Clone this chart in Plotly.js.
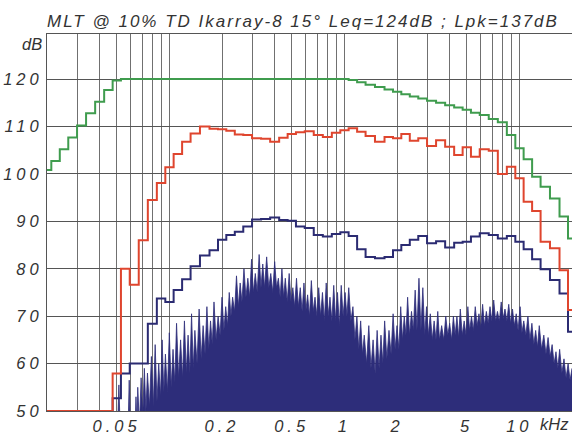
<!DOCTYPE html>
<html><head><meta charset="utf-8">
<script src="https://cdn.plot.ly/plotly-3.0.1.min.js"></script>
<style>
html,body{margin:0;padding:0;background:#fff;}
#chart{width:572px;height:433px;}
#chart .xtick text, #chart .ytick text{letter-spacing:4px;}
#chart .gtitle{letter-spacing:2px;}
</style></head><body><div id="chart"></div>
<script>
// 1/6-octave band centre frequencies (Hz)
const bandHz = [20,22.4,25,28,31.5,35.5,40,45,50,56,63,71,80,90,
  100,112,125,140,160,180,200,224,250,280,315,355,400,450,500,560,630,710,800,900,
  1000,1120,1250,1400,1600,1800,2000,2240,2500,2800,3150,3550,4000,4500,5000,5600,6300,7100,8000,9000,
  10000,11200,12500,14000,16000,18000,20000];

const greenDb = [100.8,102.7,105.2,107.7,110.2,112.8,115.2,117.7,119.7,120,120,120,120,120,
  120,120,120,120,120,120,120,120,120,120,120,120,120,120,120,120,120,120,120,120,
  120.0,119.8,119.3,118.8,118.3,117.8,117.3,116.8,116.3,115.9,115.4,115.0,114.5,114.0,113.5,112.9,112.4,111.6,110.9,108.2,
  105.4,103.1,99.4,97.3,94.8,91.0,86.4];

const redDb = [50,50,50,50,50,50,50,50,57.9,80.0,76.6,86.0,94.5,98.1,
  101.4,104.2,106.8,108.5,110.0,109.5,109.4,109.1,108.3,108.2,107.5,107.4,106.8,107.6,108.4,108.8,109.0,108.2,107.8,108.7,
  109.2,109.6,108.9,108.0,106.8,107.8,107.5,108.4,107.0,107.5,105.9,107.1,105.7,104.0,105.6,103.6,105.2,104.9,100.0,101.5,
  99.1,94.1,92.2,85.7,84.3,79.7,71.3];

const blueDb = [50,50,50,50,50,50,50,50,52.7,57.9,60.0,60.0,68.4,73.7,
  73.0,75.5,77.8,80.5,82.8,83.9,86.1,87.1,87.8,88.9,90.4,90.5,90.8,90.3,90.1,88.9,88.6,87.1,86.8,87.3,
  87.7,86.9,84.1,82.5,82.2,82.5,83.9,85.0,86.1,86.9,85.4,85.8,84.5,85.5,85.7,86.8,87.5,87.1,86.4,86.9,
  85.7,84.1,82.0,79.9,77.6,74.8,66.7];

// narrow-band spectrum: alternating spike tops and gaps (Hz, dB)
const specHz = [
  20,50.5,51.5,52.5,58,59,60,63.5,64.5,65.5,
  66,67.5,69,70.5,72,73.5,75,77,79,81,
  83,85,87,89,91,93,95,97.5,100,102.5,
  105,107.5,110,113,116,119,122,125,128,131,
  134,137,140,144,148,152,156,160,164,168,
  172,176,180,185,190,195,200,205,210,215,
  220,225,230,236,242,248,254,260,267,274,
  281,288,295,302,310,318,326,334,342,350,
  360,370,380,390,400,410,420,430,440,450,
  460,472,484,496,508,520,533,546,560,574,
  588,602,617,632,648,664,680,697,714,732,
  750,769,788,808,828,849,870,892,914,937,
  960,984,1010,1035,1060,1090,1120,1150,1180,1210,
  1240,1270,1300,1340,1380,1420,1460,1500,1540,1580,
  1620,1660,1700,1750,1800,1850,1900,1950,2000,2050,
  2100,2150,2200,2250,2300,2360,2420,2480,2540,2600,
  2670,2740,2810,2880,2950,3020,3100,3180,3260,3340,
  3420,3500,3600,3700,3800,3900,4000,4100,4200,4300,
  4400,4500,4600,4720,4840,4960,5080,5200,5330,5460,
  5600,5740,5880,6020,6170,6320,6480,6640,6800,6970,
  7140,7320,7500,7690,7880,8080,8280,8490,8700,8920,
  9140,9370,9600,9840,10100,10350,10600,10900,11200,11500,
  11800,12100,12400,12700,13000,13400,13800,14200,14600,15000,
  15400,15800,16200,16600,17000,17500,18000,18500,19000,19500,
  20000];
const specDb = [
  45,45,55.5,45,45,56.5,45,45,53,46,
  55,47,57,49,59,50,58,51,61.5,51,
  64,52,60,53,65,54,62,54,66.5,55,
  63,56,68.5,57,65,57,69,58,66,58,
  70.5,59,67,60,71.5,61,68,62,72,63,
  69,64,73,65,70,66,74,67,72,68,
  75,70,74,71,78.5,72,77,73,80,74,
  78,74,82,75,79,75,83,76,81,76,
  82.5,76,79,75,81.5,76,78,74,80,74,
  78,73,79,73,76,72,78,72,76,71,
  77,71,74.5,70,77.5,71,74,70,76,70,
  75,69,77,70,74,69,76.5,69,75,68,
  76.5,70,75,70,76,69,72,65,70,63,
  69,62,66,60,68,59,65,58,67,59,
  66,60,69,61,67,62,70.5,63,68,63,
  72,65,70,66,74,66,71,67,75.5,67,
  78,67,76,66,72,66,70.5,65,69,65,
  71,65,68,65,70,66,68.5,65,70,66,
  70,65.5,71.5,66,69,66,72,67,70,67,
  72,68,70.5,67.5,72.5,68,71,68.5,72,69,
  73.4,69,71,69,73,69.5,71.5,69,72.5,68.5,
  71.5,68,70.5,67,72,66.5,69,66,70,65,
  68.5,64,67,63.5,68,63,66,62,65.5,61.5,
  64,60,62.5,59,63,58,61,57,60,56.5,
  59];

const xGridKHz = [0.03,0.04,0.05,0.06,0.07,0.08,0.09,0.1,0.2,0.3,0.4,0.5,0.6,0.7,0.8,0.9,1,2,3,4,5,6,7,8,9,10];
const xTickText = ['','','0.05','','','','','','0.2','','','0.5','','','','','1','2','','','5','','','','','10'];
const yTickDb = [50,60,70,80,90,100,110,120];
const titleText = 'MLT @ 10% TD Ikarray-8 15° Leq=124dB ; Lpk=137dB';

const toKHz = a => a.map(v => v / 1000);
const FONT = 'Liberation Sans, Arial, sans-serif';
const txt = '#333333';

const traces = [
  {type:'scatter', mode:'lines', x:toKHz(specHz), y:specDb, line:{color:'#2d2d7a', width:0.8},
   fill:'tozeroy', fillcolor:'#2d2d7a', hoverinfo:'skip'},
  {type:'scatter', mode:'lines', x:toKHz(bandHz), y:blueDb, line:{shape:'hvh', color:'#2b2b72', width:2}},
  {type:'scatter', mode:'lines', x:toKHz(bandHz), y:greenDb, line:{shape:'hvh', color:'#3f9c4e', width:2}},
  {type:'scatter', mode:'lines', x:toKHz(bandHz), y:redDb, line:{shape:'hvh', color:'#df452e', width:2}}
];

const layout = {
  width:572, height:433,
  margin:{l:47, r:0, t:34, b:22},
  paper_bgcolor:'#ffffff', plot_bgcolor:'#ffffff',
  showlegend:false,
  title:{text:titleText, font:{family:FONT, size:17, color:txt, style:'italic'},
         x:0, xref:'paper', xanchor:'left', y:1 - 21/433, yref:'container', yanchor:'middle'},
  xaxis:{type:'log', range:[Math.log10(0.02), Math.log10(20)],
         tickmode:'array', tickvals:xGridKHz, ticktext:xTickText,
         showgrid:true, gridcolor:'#707070', gridwidth:1, zeroline:false,
         showline:true, linecolor:'#555555', linewidth:1, mirror:true, ticks:'',
         tickfont:{family:FONT, size:16.5, color:txt, style:'italic'}, ticklabelstandoff:0},
  yaxis:{range:[50, 129.5], tickmode:'array', tickvals:yTickDb,
         showgrid:true, gridcolor:'#555555', gridwidth:1, zeroline:false,
         showline:true, linecolor:'#555555', linewidth:1, ticks:'',
         tickfont:{family:FONT, size:16.5, color:txt, style:'italic'}},
  annotations:[
    {text:'dB', xref:'paper', yref:'paper', x:0, y:1, xanchor:'right', yanchor:'top', xshift:-3, yshift:1,
     showarrow:false, font:{family:FONT, size:16.5, color:txt, style:'italic'}},
    {text:'kHz', xref:'paper', yref:'paper', x:1, y:0, xanchor:'right', yanchor:'top', xshift:-1, yshift:-2,
     showarrow:false, font:{family:FONT, size:16.5, color:txt, style:'italic'}}
  ]
};

Plotly.newPlot('chart', traces, layout, {staticPlot:true, displayModeBar:false});
</script></body></html>
